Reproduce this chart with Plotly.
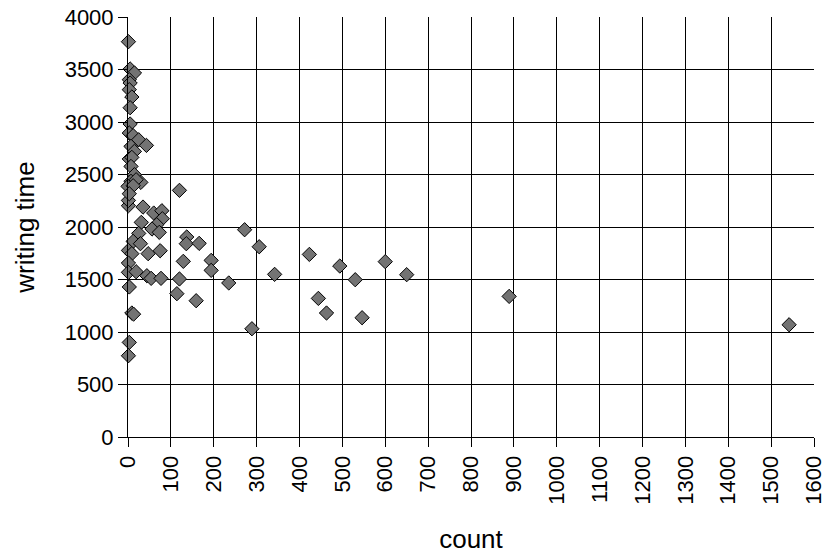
import plotly.graph_objects as go

# count vs. writing time observations
count = [1542, 889, 272, 306, 342, 235, 289, 423, 494, 530, 444, 463, 546, 600, 650,
         1, 35, 60, 79, 80, 67, 56, 73, 31, 25, 12, 29, 1, 9, 47, 75, 1, 1, 19, 44,
         54, 77, 3, 9, 13, 3, 1, 137, 136, 166, 129, 194, 194, 120, 114, 159, 1,
         1, 5, 15, 3, 5, 3, 9, 5, 5, 3, 12, 25, 43, 7, 15, 3, 9, 7, 15, 7, 30, 19,
         0, 12, 3, 120]
writing_time = [1069, 1339, 1974, 1812, 1549, 1467, 1031, 1739, 1628, 1498, 1320, 1181, 1136, 1670, 1546,
                2203, 2190, 2133, 2155, 2079, 2022, 1981, 1949, 2044, 1939, 1863, 1841, 1777, 1746, 1746,
                1774, 1657, 1568, 1574, 1536, 1511, 1511, 1429, 1181, 1170, 901, 774, 1905, 1841, 1844,
                1673, 1682, 1587, 1505, 1365, 1298, 2253,
                3765, 3505, 3467, 3403, 3371, 3308, 3238, 3136, 2981, 2895, 2870, 2831, 2777, 2768, 2720,
                2648, 2663, 2577, 2498, 2435, 2425, 2450, 2387, 2393, 2317, 2349]

x_ticks = list(range(0, 1601, 100))
y_ticks = list(range(0, 4001, 500))

font = "Liberation Sans, Arial, sans-serif"

fig = go.Figure(go.Scatter(
    x=count, y=writing_time, mode="markers",
    marker=dict(symbol="diamond", size=11, color="#737373",
                line=dict(color="#000000", width=1)),
    cliponaxis=False,
))

fig.update_layout(
    width=826, height=554,
    margin=dict(l=128, r=12, t=17, b=117),
    paper_bgcolor="white", plot_bgcolor="white",
    showlegend=False,
    font=dict(family=font, size=22, color="black"),
)

fig.update_xaxes(
    range=[0, 1600], tickvals=x_ticks, ticktext=[str(v) for v in x_ticks],
    tickangle=-90, ticks="outside", ticklen=9, tickcolor="black",
    ticklabeloverflow="allow", automargin=False,
    showgrid=True, gridcolor="black", gridwidth=1,
    showline=True, linecolor="black", linewidth=1, zeroline=False,
    title=dict(text="count", font=dict(size=26), standoff=26),
)
fig.update_yaxes(
    range=[0, 4000], tickvals=y_ticks, ticktext=[str(v) for v in y_ticks],
    ticks="outside", ticklen=9, tickcolor="black", automargin=False,
    showgrid=True, gridcolor="black", gridwidth=1,
    showline=True, linecolor="black", linewidth=1, zeroline=False,
    title=dict(text="writing time", font=dict(size=26), standoff=22),
)

fig.write_html("out.html")
